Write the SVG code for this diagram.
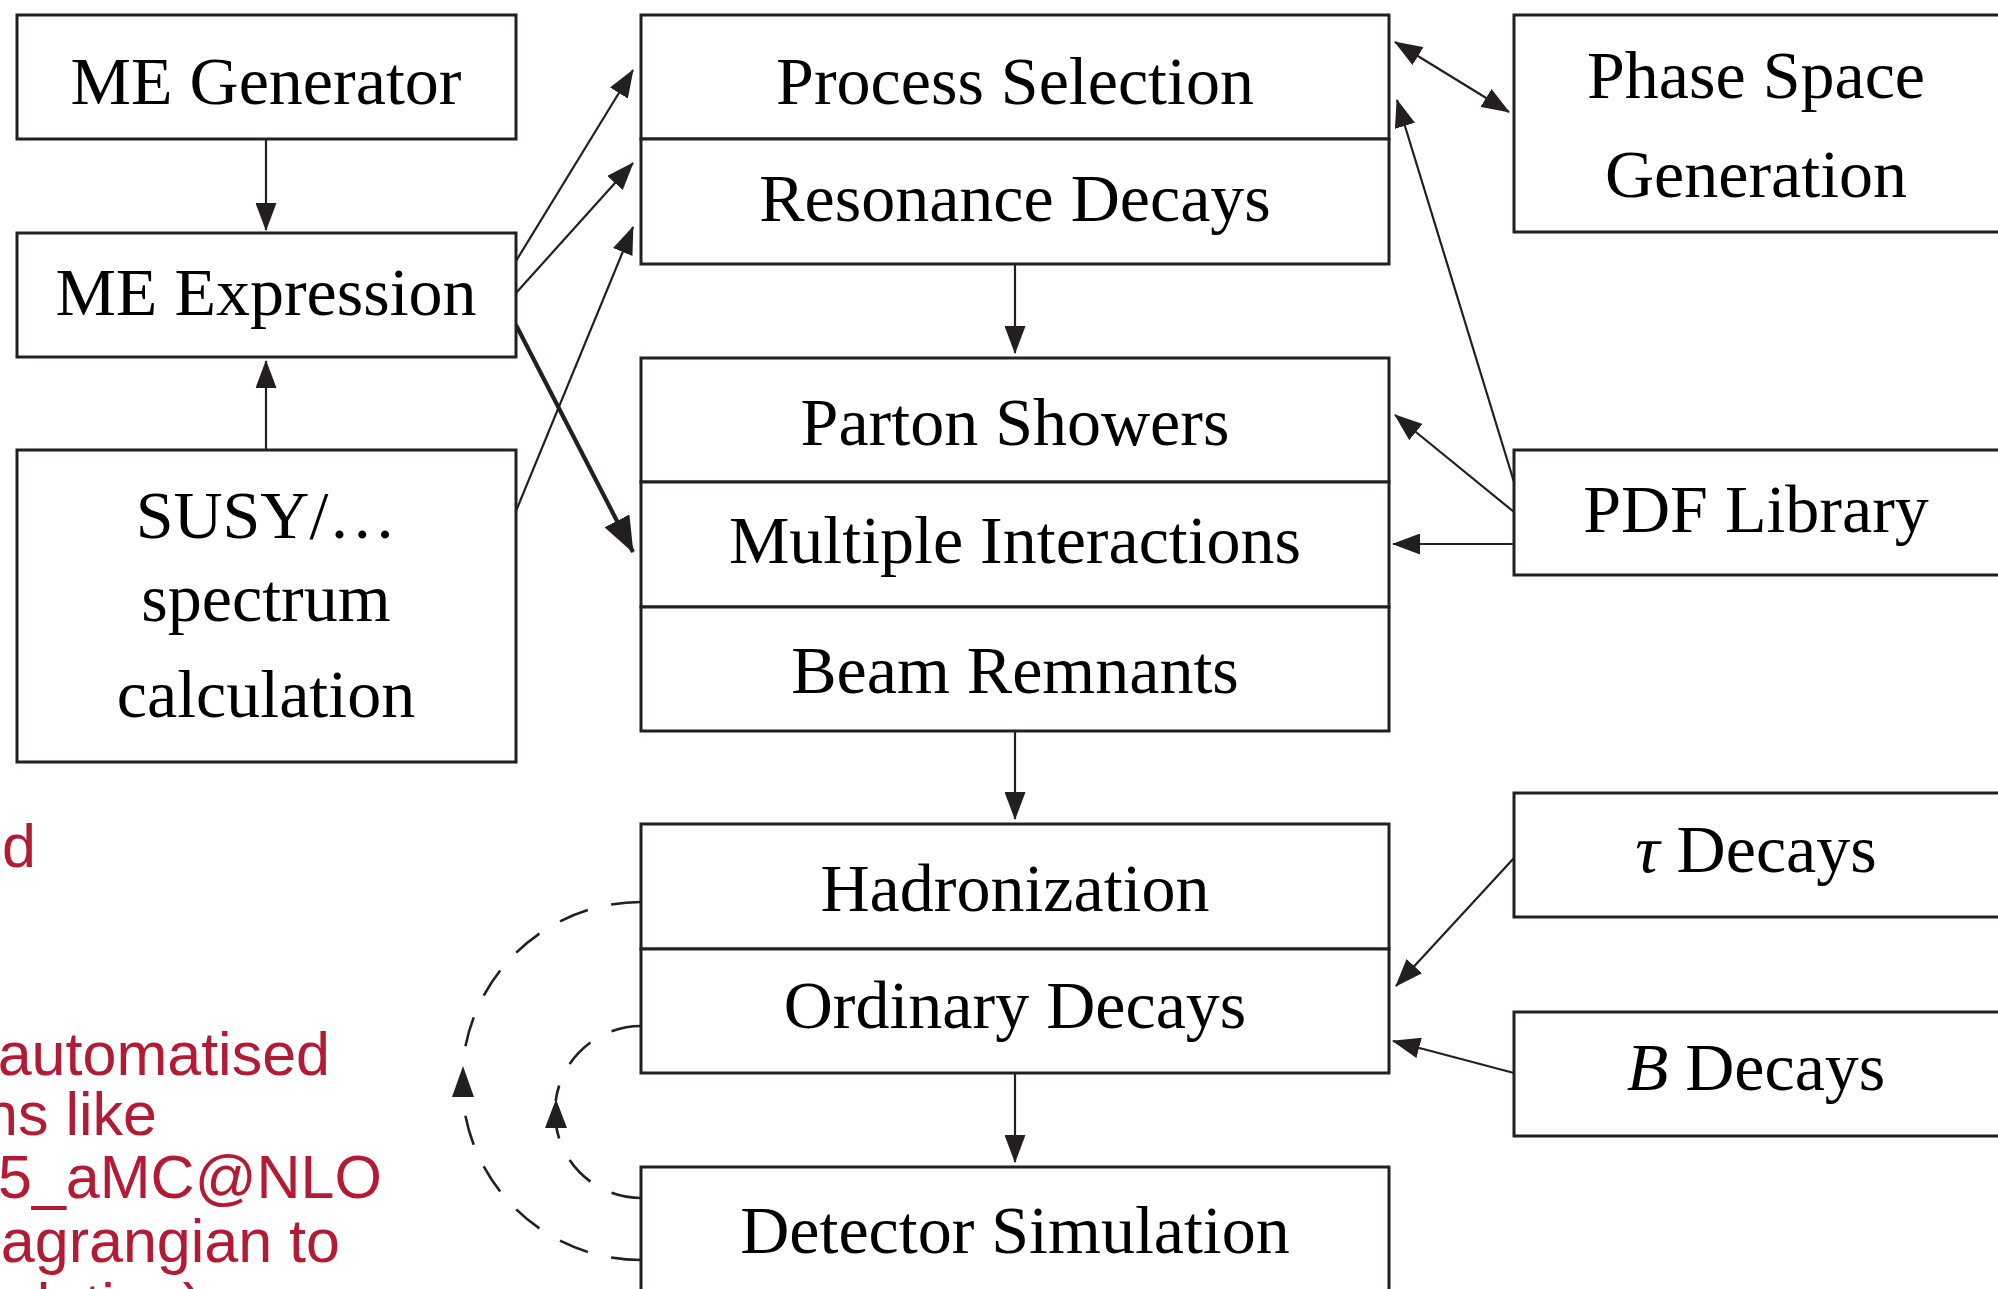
<svg xmlns="http://www.w3.org/2000/svg" width="1998" height="1289" viewBox="0 0 1998 1289">
<defs>
<style>
.box{fill:#fff;stroke:#231f20;stroke-width:3}
.t{font-family:"Liberation Serif","Times New Roman",serif;font-size:68px;fill:#000;text-anchor:middle}
.it{font-style:italic}
.c{fill:none;stroke:#231f20;stroke-width:2.2}
.thick{fill:none;stroke:#231f20;stroke-width:4.2}
.dash{fill:none;stroke:#231f20;stroke-width:2.6;stroke-dasharray:30 24}
.head{fill:#231f20}
.red{font-family:"Liberation Sans",Arial,sans-serif;font-size:61px;fill:#b31b34;text-anchor:end}
</style>
<marker id="ah" viewBox="0 0 28 21" refX="27" refY="10.5" markerWidth="28" markerHeight="21" markerUnits="userSpaceOnUse" orient="auto-start-reverse">
<path d="M0,0 L28,10.5 L0,21 z" fill="#231f20"/>
</marker>
<marker id="ahb" viewBox="0 0 36 28" refX="35" refY="14" markerWidth="36" markerHeight="28" markerUnits="userSpaceOnUse" orient="auto">
<path d="M0,0 L36,14 L0,28 z" fill="#231f20"/>
</marker>
</defs>
<rect width="1998" height="1289" fill="#fff"/>

<g id="side-note">
<text class="red" x="36" y="867">d</text>
<text class="red" x="330" y="1075">automatised</text>
<text class="red" x="157" y="1135">ns like</text>
<text class="red" x="382" y="1198">h5_aMC@NLO</text>
<text class="red" x="340" y="1262">agrangian to</text>
<text class="red" x="203" y="1326">calculation)</text>
</g>

<g id="connectors">
<line class="c" x1="266" y1="139" x2="266" y2="230" marker-end="url(#ah)"/>
<line class="c" x1="266" y1="450" x2="266" y2="361" marker-end="url(#ah)"/>
<line class="c" x1="516" y1="261" x2="633" y2="70" marker-end="url(#ah)"/>
<line class="c" x1="516" y1="293" x2="633" y2="163" marker-end="url(#ah)"/>
<line class="c" x1="516" y1="511" x2="633" y2="227" marker-end="url(#ah)"/>
<line class="thick" x1="516" y1="325" x2="633" y2="552" marker-end="url(#ahb)"/>
<line class="c" x1="1015" y1="264" x2="1015" y2="353" marker-end="url(#ah)"/>
<line class="c" x1="1015" y1="731" x2="1015" y2="819" marker-end="url(#ah)"/>
<line class="c" x1="1015" y1="1073" x2="1015" y2="1162" marker-end="url(#ah)"/>
<line class="c" x1="1395" y1="42" x2="1509" y2="112" marker-start="url(#ah)" marker-end="url(#ah)"/>
<line class="c" x1="1514" y1="482" x2="1397" y2="100" marker-end="url(#ah)"/>
<line class="c" x1="1514" y1="512" x2="1395" y2="415" marker-end="url(#ah)"/>
<line class="c" x1="1514" y1="544" x2="1393" y2="544" marker-end="url(#ah)"/>
<line class="c" x1="1514" y1="858" x2="1396" y2="986" marker-end="url(#ah)"/>
<line class="c" x1="1514" y1="1073" x2="1393" y2="1041" marker-end="url(#ah)"/>
<path class="dash" d="M641,902 A179,179 0 0 0 462.5,1068"/>
<path class="dash" d="M641,1260 A179,179 0 0 1 462.6,1096"/>
<polygon class="head" points="463,1066 452,1097 474,1097"/>
<path class="dash" d="M641,1026 A86,86 0 0 0 555.7,1101"/>
<path class="dash" d="M641,1198 A86,86 0 0 1 556.3,1127"/>
<polygon class="head" points="556,1099 545,1128 567,1128"/>
</g>

<g id="me-generator"><rect class="box" x="17" y="15" width="499" height="124"/><text class="t" x="266" y="104">ME Generator</text></g>
<g id="me-expression"><rect class="box" x="17" y="233" width="499" height="124"/><text class="t" x="266" y="315">ME Expression</text></g>
<g id="susy"><rect class="box" x="17" y="450" width="499" height="312"/><text class="t" x="266" y="538">SUSY/…</text><text class="t" x="266" y="621">spectrum</text><text class="t" x="266" y="717">calculation</text></g>

<g id="process-selection"><rect class="box" x="641" y="15" width="748" height="124"/><text class="t" x="1015" y="104">Process Selection</text></g>
<g id="resonance-decays"><rect class="box" x="641" y="139" width="748" height="125"/><text class="t" x="1015" y="221">Resonance Decays</text></g>
<g id="parton-showers"><rect class="box" x="641" y="358" width="748" height="124"/><text class="t" x="1015" y="445">Parton Showers</text></g>
<g id="multiple-interactions"><rect class="box" x="641" y="482" width="748" height="125"/><text class="t" x="1015" y="563">Multiple Interactions</text></g>
<g id="beam-remnants"><rect class="box" x="641" y="607" width="748" height="124"/><text class="t" x="1015" y="693">Beam Remnants</text></g>
<g id="hadronization"><rect class="box" x="641" y="824" width="748" height="125"/><text class="t" x="1015" y="911">Hadronization</text></g>
<g id="ordinary-decays"><rect class="box" x="641" y="949" width="748" height="124"/><text class="t" x="1015" y="1028">Ordinary Decays</text></g>
<g id="detector-simulation"><rect class="box" x="641" y="1167" width="748" height="160"/><text class="t" x="1015" y="1253">Detector Simulation</text></g>

<g id="phase-space"><rect class="box" x="1514" y="15" width="500" height="217"/><text class="t" x="1756" y="98">Phase Space</text><text class="t" x="1756" y="197">Generation</text></g>
<g id="pdf-library"><rect class="box" x="1514" y="450" width="500" height="125"/><text class="t" x="1756" y="532">PDF Library</text></g>
<g id="tau-decays"><rect class="box" x="1514" y="793" width="500" height="124"/><text class="t" x="1756" y="872"><tspan class="it">τ</tspan> Decays</text></g>
<g id="b-decays"><rect class="box" x="1514" y="1012" width="500" height="124"/><text class="t" x="1756" y="1090"><tspan class="it">B</tspan> Decays</text></g>
</svg>
